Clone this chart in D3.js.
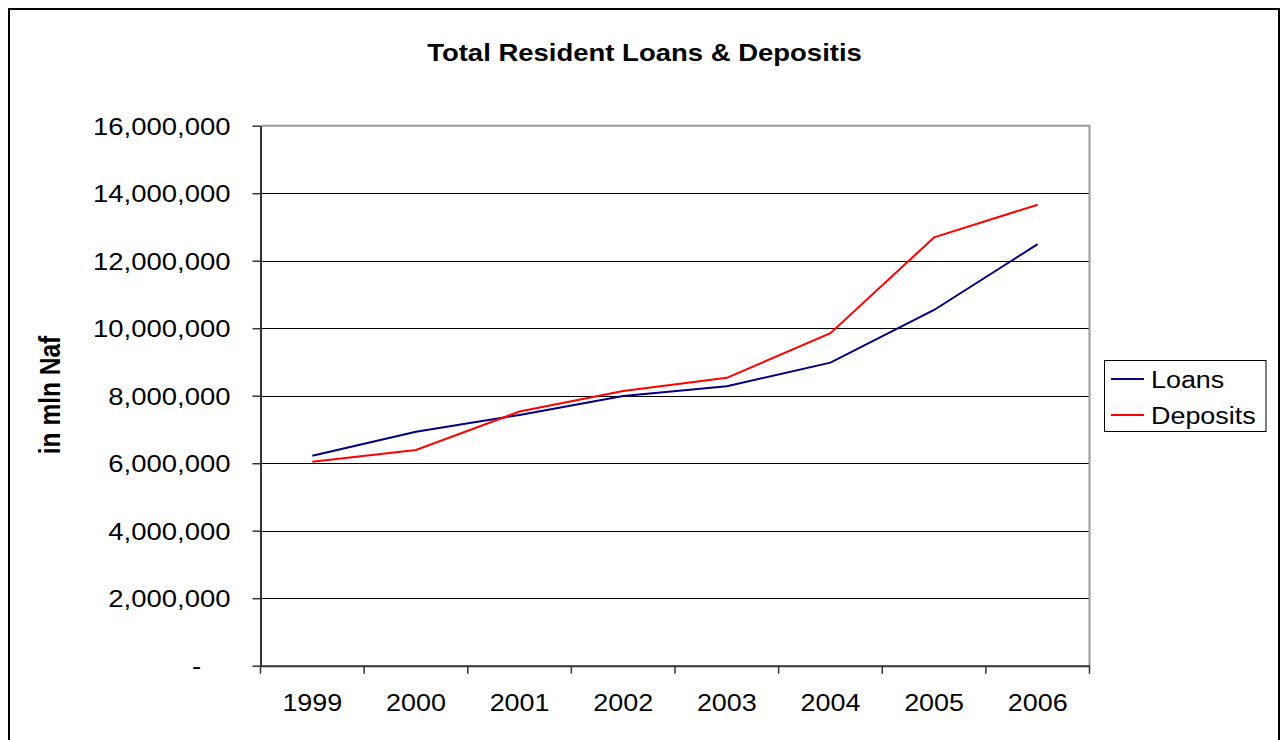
<!DOCTYPE html>
<html><head><meta charset="utf-8">
<script src="https://cdn.jsdelivr.net/npm/d3@7"></script>
<style>
body{margin:0;background:#fff}
svg{display:block}
text{font-family:"Liberation Sans",Arial,Helvetica,sans-serif;fill:#000}
</style>
</head><body>
<svg id="c" width="1281" height="740"></svg>
<script>
// ---- data ----
const years = ["1999","2000","2001","2002","2003","2004","2005","2006"];
const loans = [6220000, 6930000, 7430000, 7990000, 8280000, 8980000, 10540000, 12490000];
const deposits = [6040000, 6390000, 7530000, 8140000, 8530000, 9850000, 12690000, 13660000];
const yTicks = [0, 2000000, 4000000, 6000000, 8000000, 10000000, 12000000, 14000000, 16000000];
const seriesNames = ["Loans", "Deposits"];
const seriesColors = ["#000080", "#ff0000"];
const titleText = "Total Resident Loans & Depositis";
const yTitleText = "in mln Naf";

// ---- layout ----
const SX = 1.17; // horizontal text stretch of the reference
const svg = d3.select("#c");
const L = 260.5, R = 1089.5, T = 125.7, B = 665.7;

const x = d3.scaleBand().domain(years).range([L, R]).paddingInner(0).paddingOuter(0);
const y = d3.scaleLinear().domain([0, 16000000]).range([B, T]);

// outer border
svg.append("rect").attr("x", 9).attr("y", 9).attr("width", 1270).attr("height", 760)
  .attr("fill", "none").attr("stroke", "#000").attr("stroke-width", 2);

// title
svg.append("text").attr("transform", `translate(644.5,61) scale(${SX},1)`)
  .attr("text-anchor", "middle").attr("font-size", 23.5).attr("font-weight", "bold")
  .text(titleText);

// y-axis title
svg.append("text").attr("transform", `translate(60,395) scale(${SX},1) rotate(-90)`)
  .attr("text-anchor", "middle").attr("font-size", 24.5).attr("font-weight", "bold")
  .text(yTitleText);

// gridlines
svg.append("g").selectAll("line").data(yTicks.filter(d => d > 0 && d < 16000000)).join("line")
  .attr("x1", L).attr("x2", R).attr("y1", d => Math.round(y(d)) + 0.5).attr("y2", d => Math.round(y(d)) + 0.5)
  .attr("stroke", "#000").attr("stroke-width", 1);

// plot border top/right (gray)
svg.append("path")
  .attr("d", `M${L},${T}H${R}V${B}`)
  .attr("fill", "none").attr("stroke", "#9a9a9a").attr("stroke-width", 2);

// y axis
const yAxis = svg.append("g").attr("transform", `translate(${L},0)`)
  .call(d3.axisLeft(y).tickValues(yTicks).tickSize(8).tickSizeOuter(0)
    .tickFormat(d => d === 0 ? "-" : d3.format(",")(d)));
yAxis.select(".domain").attr("stroke", "#333").attr("stroke-width", 2);
yAxis.selectAll(".tick line").attr("stroke", "#333").attr("stroke-width", 1.5);
yAxis.selectAll(".tick text")
  .attr("font-size", 23.5).attr("font-family", null).attr("fill", "#000")
  .attr("x", null).attr("dy", null)
  .attr("text-anchor", d => d === 0 ? "middle" : "end")
  .attr("transform", d => d === 0 ? `translate(-64,8) scale(${SX},1)` : `translate(-30,8.3) scale(${SX},1)`);

// x axis
const xAxis = svg.append("g").attr("transform", `translate(0,${B})`)
  .call(d3.axisBottom(x).tickSize(0).tickSizeOuter(0));
xAxis.select(".domain").attr("stroke", "#333").attr("stroke-width", 2);
xAxis.selectAll(".tick text")
  .attr("font-size", 23).attr("font-family", null).attr("fill", "#000")
  .attr("y", null).attr("dy", null)
  .attr("transform", `translate(0,45) scale(${SX},1)`);
// category boundary ticks
const bounds = years.map(d => x(d)).concat([R]);
svg.append("g").selectAll("line").data(bounds).join("line")
  .attr("x1", d => d).attr("x2", d => d).attr("y1", B).attr("y2", B + 8)
  .attr("stroke", "#333").attr("stroke-width", 1.5);

// lines
const series = [loans, deposits];
const line = d3.line().x((d, i) => x(years[i]) + x.bandwidth() / 2).y(d => y(d));
svg.append("g").selectAll("path").data(series).join("path")
  .attr("d", d => line(d)).attr("fill", "none")
  .attr("stroke", (d, i) => seriesColors[i]).attr("stroke-width", 2);

// legend
const lg = svg.append("g");
lg.append("rect").attr("x", 1104.5).attr("y", 360.5).attr("width", 161.5).attr("height", 71)
  .attr("fill", "#fff").attr("stroke", "#000").attr("stroke-width", 1);
const items = lg.selectAll("g.item").data(seriesNames).join("g").attr("class", "item")
  .attr("transform", (d, i) => `translate(0,${379 + i * 36})`);
items.append("line").attr("x1", 1111).attr("x2", 1144).attr("y1", 0).attr("y2", 0)
  .attr("stroke", (d, i) => seriesColors[i]).attr("stroke-width", 2);
items.append("text").attr("transform", `translate(1151,8.5) scale(${SX},1)`)
  .attr("font-size", 23).text(d => d);
</script>
</body></html>
